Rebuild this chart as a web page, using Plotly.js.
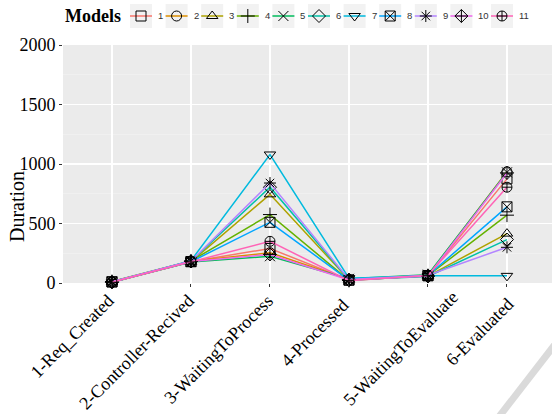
<!DOCTYPE html>
<html>
<head>
<meta charset="utf-8">
<script src="https://cdn.plot.ly/plotly-3.0.1.min.js"></script>
<style>html,body{margin:0;padding:0;background:#fff;}#chart{width:552px;height:414px;}</style>
</head>
<body>
<div id="chart"></div>
<script>
// ---- data ----
var stages = ["1-Req_Created", "2-Controller-Recived", "3-WaitingToProcess", "4-Processed", "5-WaitingToEvaluate", "6-Evaluated"];
var models = ["1", "2", "3", "4", "5", "6", "7", "8", "9", "10", "11"];
var m1  = [8, 180, 290, 25, 60, 875];
var m2  = [10, 182, 255, 30, 65, 935];
var m3  = [6, 178, 745, 28, 58, 415];
var m4  = [12, 185, 575, 22, 62, 570];
var m5  = [9, 176, 225, 35, 70, 930];
var m6  = [7, 183, 805, 27, 55, 365];
var m7  = [5, 188, 1080, 40, 60, 60];
var m8  = [11, 179, 510, 24, 63, 640];
var m9  = [10, 184, 840, 30, 66, 300];
var m10 = [8, 181, 240, 26, 59, 925];
var m11 = [6, 177, 350, 20, 64, 805];
var series = [m1, m2, m3, m4, m5, m6, m7, m8, m9, m10, m11];
var yTicks = [0, 500, 1000, 1500, 2000];
var yMinor = [250, 750, 1250, 1750];

// ---- styles ----
var colors = ["#F8766D", "#DB8E00", "#AEA200", "#64B200", "#00BD5C", "#00C1A7", "#00BADE", "#00A6FF", "#B385FF", "#EF67EB", "#FF63B6"];
var symbols = ["square-open", "circle-open", "triangle-up-open", "cross-thin-open", "x-thin-open", "diamond-open", "triangle-down-open", "square-x-open", "asterisk-open", "diamond-cross-open", "circle-cross-open"];
// x label placement (px offset of label end from its tick, and label top in px)
var labelDx = [9, 10, 10, 6, 37, 13];
var labelTop = [288, 288, 288, 292, 284, 291];

var W = 552, H = 414;
var L = 63, R = 552, T = 45, B = 283;
function pX(p) { return p / W; }
function pY(p) { return (H - p) / H; }

var traces = [];
for (var i = 0; i < models.length; i++) {
  traces.push({
    type: "scatter", mode: "lines+markers", name: models[i],
    x: stages, y: series[i], cliponaxis: false, showlegend: false,
    line: { color: colors[i], width: 1.5 },
    marker: { symbol: symbols[i], color: "#000", size: 10, line: { color: "#000", width: 1 } }
  });
}

// panel background
var shapes = [{ type: "rect", xref: "paper", yref: "paper", layer: "below",
  x0: pX(L), x1: pX(R), y0: pY(B), y1: pY(T), fillcolor: "#EBEBEB", line: { width: 0 } }];
var annotations = [];

// x category labels
for (var k = 0; k < stages.length; k++) {
  annotations.push({ xref: "x", yref: "paper", x: stages[k], y: pY(labelTop[k]),
    xshift: labelDx[k], xanchor: "right", yanchor: "top", textangle: -45, showarrow: false,
    text: stages[k], font: { family: "Liberation Serif, serif", size: 18, color: "#000" } });
}

// manual legend (ggplot-like)
var keyW = 22, keyTop = 4, keyBot = 28, legY = 16;
var kx = 130;
var legX = [], legYs = [];
for (var j = 0; j < models.length; j++) {
  shapes.push({ type: "rect", xref: "paper", yref: "paper", layer: "below",
    x0: pX(kx), x1: pX(kx + keyW), y0: pY(keyBot), y1: pY(keyTop),
    fillcolor: "#F2F2F2", line: { width: 0 } });
  shapes.push({ type: "line", xref: "paper", yref: "paper", layer: "below",
    x0: pX(kx), x1: pX(kx + keyW), y0: pY(legY), y1: pY(legY),
    line: { color: colors[j], width: 1.5 } });
  legX.push(kx + keyW / 2); legYs.push(legY);
  annotations.push({ xref: "paper", yref: "paper", x: pX(kx + keyW + 4), y: pY(legY),
    xanchor: "left", yanchor: "middle", showarrow: false, text: models[j],
    font: { family: "Liberation Sans, Arial, sans-serif", size: 9.5, color: "#333" } });
  kx += keyW + 5 + 5 * models[j].length + 3.6;
}
traces.push({ type: "scatter", mode: "markers", x: legX, y: legYs, xaxis: "x2", yaxis: "y2",
  cliponaxis: false, showlegend: false, hoverinfo: "skip",
  marker: { symbol: symbols, color: "#000", size: 10, line: { color: "#000", width: 1 } } });

annotations.push({ xref: "paper", yref: "paper", x: pX(63), y: pY(16), xanchor: "left", yanchor: "middle",
  showarrow: false, text: "<b>Models</b>", font: { family: "Liberation Serif, serif", size: 18, color: "#000" } });
annotations.push({ xref: "paper", yref: "paper", x: pX(17), y: pY(207), xanchor: "center", yanchor: "middle",
  showarrow: false, textangle: -90, text: "Duration", font: { family: "Liberation Serif, serif", size: 20, color: "#000" } });

// scan artifact stroke
shapes.push({ type: "line", xref: "paper", yref: "paper", layer: "above",
  x0: pX(560), y0: pY(338), x1: pX(498), y1: pY(418), line: { color: "#DADADA", width: 7 } });

var layout = {
  width: W, height: H,
  margin: { l: 0, r: 0, t: 0, b: 0 },
  paper_bgcolor: "#fff", plot_bgcolor: "rgba(0,0,0,0)",
  showlegend: false,
  xaxis: {
    domain: [L / W, R / W], anchor: "y",
    type: "category", range: [-0.62, 5.57], showline: false, zeroline: false,
    showgrid: true, gridcolor: "#fff", gridwidth: 1.1,
    ticks: "outside", ticklen: 3, tickcolor: "#333", tickwidth: 1,
    showticklabels: false
  },
  yaxis: {
    domain: [(H - B) / H, (H - T) / H], anchor: "x",
    range: [0, 2000], tickvals: yTicks, ticktext: yTicks.map(String),
    showline: false, zeroline: false, showgrid: true, gridcolor: "#fff", gridwidth: 1.1,
    minor: { tickvals: yMinor, showgrid: true, gridcolor: "#F5F5F5", gridwidth: 0.5, ticks: "" },
    ticks: "outside", ticklen: 3, tickcolor: "#333", tickwidth: 1,
    tickfont: { family: "Liberation Serif, serif", size: 18, color: "#000" }
  },
  xaxis2: { domain: [0, 1], range: [0, W], visible: false, anchor: "y2" },
  yaxis2: { domain: [0, 1], range: [H, 0], visible: false, anchor: "x2" },
  shapes: shapes, annotations: annotations
};

Plotly.newPlot("chart", traces, layout, { displayModeBar: false, staticPlot: true });
</script>
</body>
</html>
